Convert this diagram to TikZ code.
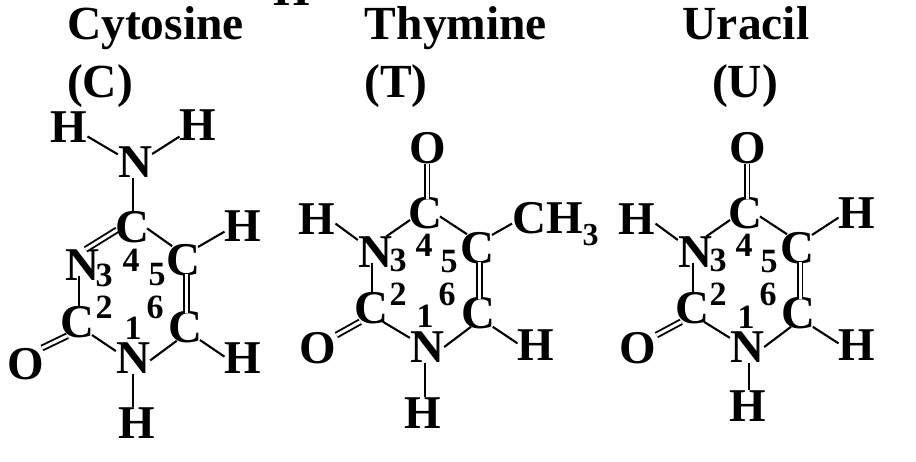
\documentclass[tikz,border=0pt]{standalone}
\usepackage{fontspec}
\setmainfont{Liberation Serif}
\begin{document}
\begin{tikzpicture}[x=1pt,y=1pt]
\tikzstyle{every node}+=[inner sep=0pt]
\tikzstyle{atom}=[font=\fontsize{47}{47}\selectfont\bfseries]
\tikzstyle{catom}=[atom,outer sep=-2pt]
\tikzstyle{heading}=[font=\fontsize{47.5}{48}\selectfont\bfseries,anchor=base]
\tikzstyle{num}=[font=\fontsize{34}{34}\selectfont\bfseries]
\tikzstyle{bond}=[line width=2.1pt,black]
\tikzstyle{dbond}=[line width=1.9pt,black,double=white,double distance=3pt]
\useasboundingbox (0,-461) rectangle (916,0);
\clip (0,-461) rectangle (916,0);
\node [atom] (strayH) at (292,10) {H};
\node [heading] (cytName) at (155.5,-39) {Cytosine};
\node [heading] (cytLetter) at (100,-97) {(C)};
\node [atom] (cytHa) at (69,-127) {H};
\node [atom] (cytHb) at (198,-125) {H};
\node [atom] (cytNa) at (135,-162) {N};
\node [catom] (cytC4) at (132,-227) {C};
\node [catom] (cytC5) at (183,-260) {C};
\node [atom] (cytH5) at (243,-226) {H};
\node [atom] (cytN3) at (82,-265) {N};
\node [catom] (cytC2) at (77,-322) {C};
\node [catom] (cytC6) at (185,-327) {C};
\node [atom] (cytN1) at (133,-358) {N};
\node [atom] (cytH6) at (243,-358) {H};
\node [atom] (cytO) at (26,-364) {O};
\node [atom] (cytH1) at (137,-423) {H};
\node [num] (cytn1) at (133,-328) {1};
\node [num] (cytn2) at (104,-307) {2};
\node [num] (cytn3) at (104,-275) {3};
\node [num] (cytn4) at (131,-260) {4};
\node [num] (cytn5) at (157,-275) {5};
\node [num] (cytn6) at (155,-307) {6};
\draw [bond] (cytHa.-27) -- (cytNa.156);
\draw [bond] (cytHb.212) -- (cytNa.25);
\draw [bond] ([xshift=-2pt]cytNa.south) -- ([xshift=1pt]cytC4.north);
\draw [dbond] (cytC4.191) -- (cytN3.77);
\draw [bond] (cytC4.-5) -- (cytC5.128);
\draw [bond] (cytC5.41) -- (cytH5.197);
\draw [dbond] ([xshift=3.5pt]cytC5.south) -- ([xshift=1.5pt]cytC6.north);
\draw [bond] (cytC6.239) -- (cytN1.-8);
\draw [bond] (cytC6.-41) -- (cytH6.176);
\draw [bond] (cytC2.-41) -- (cytN1.158);
\draw [bond,shorten <=-5pt] ([xshift=-3pt]cytN3.south) -- ([xshift=2pt]cytC2.north);
\draw [dbond] (cytC2.235) -- (cytO.45);
\draw [bond] (cytN1.south) -- ([xshift=-4pt]cytH1.north);
\node [heading] (thyName) at (456,-39) {Thymine};
\node [heading] (thyLetter) at (396,-97) {(T)};
\node [atom] (thyO4) at (428,-148) {O};
\node [catom] (thyC4) at (425,-213) {C};
\node [atom] (thyH3) at (317,-219) {H};
\node [atom] (thyN3) at (375,-252) {N};
\node [catom] (thyC5) at (477,-248) {C};
\node [atom,anchor=base west] (thyMe) at (512,-233) {CH\raisebox{-12pt}{\fontsize{32}{32}\selectfont 3}};
\node [catom] (thyC2) at (371,-308) {C};
\node [catom] (thyC6) at (478,-313) {C};
\node [atom] (thyN1) at (427,-347) {N};
\node [atom] (thyH6) at (536,-345) {H};
\node [atom] (thyO2) at (318,-348) {O};
\node [atom] (thyH1) at (423,-413) {H};
\node [num] (thyn1) at (425,-316) {1};
\node [num] (thyn2) at (398,-294) {2};
\node [num] (thyn3) at (398,-260) {3};
\node [num] (thyn4) at (424,-245) {4};
\node [num] (thyn5) at (449,-262) {5};
\node [num] (thyn6) at (447,-294) {6};
\draw [dbond] ([xshift=2pt]thyC4.north) -- ([xshift=-1pt]thyO4.south);
\draw [bond] (thyH3.-14) -- (thyN3.145);
\draw [bond] (thyN3.54) -- (thyC4.205);
\draw [bond] (thyC4.-13) -- (thyC5.126);
\draw [bond] (thyC5.41) -- (thyMe.west);
\draw [dbond] ([xshift=2.5pt]thyC5.south) -- ([xshift=1.5pt]thyC6.north);
\draw [bond] (thyC6.243) -- (thyN1.0);
\draw [bond] (thyC6.-43) -- (thyH6.175);
\draw [bond] (thyC2.-49) -- (thyN1.152);
\draw [bond,shorten <=-5pt] ([xshift=-3pt]thyN3.south) -- ([xshift=1pt]thyC2.north);
\draw [dbond] (thyC2.232) -- (thyO2.35);
\draw [bond] ([xshift=-2pt]thyN1.south) -- ([xshift=2pt]thyH1.north);
\node [heading] (uraName) at (746,-39) {Uracil};
\node [heading] (uraLetter) at (745,-97) {(U)};
\node [atom] (uraO4) at (748,-148) {O};
\node [catom] (uraC4) at (745,-213) {C};
\node [atom] (uraH3) at (637,-219) {H};
\node [atom] (uraN3) at (695,-252) {N};
\node [catom] (uraC5) at (797,-248) {C};
\node [atom] (uraH5) at (857,-213) {H};
\node [catom] (uraC2) at (692,-308) {C};
\node [catom] (uraC6) at (798,-313) {C};
\node [atom] (uraN1) at (747,-347) {N};
\node [atom] (uraH6) at (857,-345) {H};
\node [atom] (uraO2) at (638,-348) {O};
\node [atom] (uraH1) at (748,-406) {H};
\node [num] (uran1) at (746,-317) {1};
\node [num] (uran2) at (718,-294) {2};
\node [num] (uran3) at (718,-260) {3};
\node [num] (uran4) at (744,-245) {4};
\node [num] (uran5) at (769,-262) {5};
\node [num] (uran6) at (768,-294) {6};
\draw [dbond] ([xshift=2pt]uraC4.north) -- ([xshift=-1pt]uraO4.south);
\draw [bond] (uraH3.-14) -- (uraN3.145);
\draw [bond] (uraN3.54) -- (uraC4.205);
\draw [bond] (uraC4.-13) -- (uraC5.126);
\draw [bond] (uraC5.41) -- (uraH5.194);
\draw [dbond] ([xshift=3pt]uraC5.south) -- ([xshift=2pt]uraC6.north);
\draw [bond] (uraC6.243) -- (uraN1.0);
\draw [bond] (uraC6.-43) -- (uraH6.175);
\draw [bond] (uraC2.-49) -- (uraN1.152);
\draw [bond,shorten <=-5pt] ([xshift=-2pt]uraN3.south) -- ([xshift=1pt]uraC2.north);
\draw [dbond] (uraC2.232) -- (uraO2.35);
\draw [bond] ([xshift=2pt]uraN1.south) -- ([xshift=1pt]uraH1.north);
\end{tikzpicture}
\end{document}
